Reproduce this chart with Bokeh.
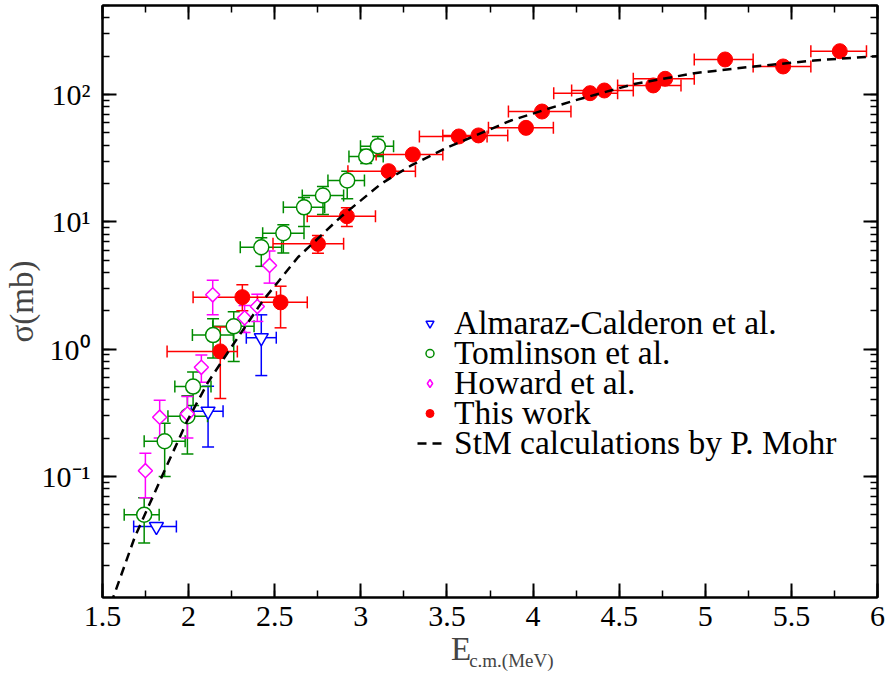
import numpy as np
from bokeh.plotting import figure
from bokeh.models import (ColumnDataSource, Whisker, TeeHead, Legend, LegendItem, LinearAxis, LogAxis,
                          SingleIntervalTicker, LogTicker, CustomJSTickFormatter, Range1d)
from bokeh.embed import file_html
from bokeh.resources import INLINE

# ---------------- data ----------------
# This work (red filled circles)
tw_x  = [2.184, 2.312, 2.534, 2.751, 2.919, 3.161, 3.302, 3.569, 3.683, 3.959, 4.052, 4.331, 4.414, 4.698, 4.767, 5.115, 5.452, 5.781]
tw_y  = [0.96, 2.56, 2.33, 6.71, 11.07, 25.0, 33.8, 46.8, 47.7, 54.7, 73.5, 102.4, 107.5, 117.8, 132.8, 188.4, 166.0, 218.8]
tw_xl = [1.875, 2.026, 2.400, 2.490, 2.689, 2.925, 3.089, 3.340, 3.476, 3.741, 3.857, 4.120, 4.224, 4.491, 4.582, 4.936, 5.278, 5.613]
tw_xu = [2.283, 2.510, 2.689, 2.900, 3.085, 3.317, 3.476, 3.733, 3.853, 4.118, 4.220, 4.491, 4.582, 4.859, 4.936, 5.278, 5.613, 5.936]
tw_yl = [0.41, 2.00, 1.47, 5.66, 9.18, 23.5, 31.5, 44.0, 45.0, 52.0, 70.0, 97.0, 102.0, 112.0, 126.0, 179.0, 158.0, 208.0]
tw_yu = [1.49, 3.21, 3.12, 7.80, 12.9, 26.5, 36.0, 49.5, 50.0, 57.5, 77.0, 108.0, 113.0, 124.0, 140.0, 198.0, 174.0, 230.0]

# Tomlinson et al. (green open circles)
to_x  = [1.742, 1.861, 1.993, 2.026, 2.142, 2.262, 2.422, 2.550, 2.670, 2.780, 2.921, 3.031, 3.099]
to_y  = [0.050, 0.189, 0.297, 0.508, 1.29, 1.51, 6.31, 8.13, 13.0, 16.1, 21.1, 32.6, 39.3]
to_xl = [1.626, 1.742, 1.880, 1.920, 2.022, 2.140, 2.300, 2.430, 2.550, 2.660, 2.809, 2.931, 2.998]
to_xu = [1.829, 1.980, 2.110, 2.130, 2.260, 2.380, 2.540, 2.670, 2.790, 2.900, 3.021, 3.130, 3.190]
to_yl = [0.030, 0.100, 0.150, 0.360, 0.85, 0.80, 4.47, 5.7, 9.2, 11.4, 15.2, 28.7, 33.0]
to_yu = [0.068, 0.262, 0.430, 0.660, 1.73, 1.97, 7.5, 9.5, 15.5, 18.9, 25.0, 37.0, 46.8]

# Howard et al. (magenta open diamonds)
ho_x  = [1.749, 1.832, 1.993, 2.074, 2.140, 2.325, 2.399, 2.470]
ho_y  = [0.111, 0.292, 0.310, 0.72, 2.67, 1.76, 2.16, 4.54]
ho_yl = [0.068, 0.200, 0.200, 0.55, 1.86, 1.35, 1.65, 3.30]
ho_yu = [0.152, 0.397, 0.425, 0.90, 3.47, 2.20, 2.70, 5.90]

# Almaraz-Calderon et al. (blue open down-triangles)
al_x  = [1.813, 2.113, 2.422]
al_y  = [0.0404, 0.325, 1.23]
al_xl = [1.681, 2.016, 2.335]
al_xu = [1.929, 2.200, 2.509]
al_yl = [0.0404, 0.17, 0.62]
al_yu = [0.0404, 0.51, 1.86]

# StM calculations by P. Mohr (dashed)
stm_x = [1.550, 1.562, 1.687, 1.852, 1.993, 2.113, 2.248, 2.432, 2.635, 2.886, 3.118, 3.292, 3.505, 3.872, 4.240, 4.588, 4.936, 5.284, 5.632, 6.0]
stm_y = [0.0100, 0.0112, 0.0333, 0.105, 0.275, 0.55, 1.035, 2.41, 5.27, 11.0, 19.9, 27.7, 38.5, 62.5, 89.7, 121.0, 147.0, 166.0, 185.0, 200.0]

x_tick_vals = [1.5, 2, 2.5, 3, 3.5, 4, 4.5, 5, 5.5, 6]
x_tick_labels = ["1.5", "2", "2.5", "3", "3.5", "4", "4.5", "5", "5.5", "6"]
y_tick_vals = [0.1, 1, 10, 100]
y_tick_labels = ["10\u207b\u00b9", "10\u2070", "10\u00b9", "10\u00b2"]

labels = ["Almaraz-Calderon et al.", "Tomlinson et al.", "Howard et al.", "This work", "StM calculations by P. Mohr"]
x_title_main, x_title_sub = "E", "c.m.(MeV)"
y_title = "\u03c3(mb)"

FONT = "Liberation Serif"
RED, GREEN, MAG, BLUE = "#ff0000", "#008b00", "#ff00ff", "#0000ff"
NB = "\u00a0"

p = figure(width=888, height=676, y_axis_type="log",
           x_range=Range1d(1.5, 6.0), y_range=Range1d(0.0112, 500),
           output_backend="svg", toolbar_location=None,
           min_border_left=101, min_border_right=11, min_border_top=5, min_border_bottom=79)
p.xgrid.visible = False
p.ygrid.visible = False
p.outline_line_color = "black"
p.outline_line_width = 2
p.background_fill_color = "white"
p.border_fill_color = "white"

xax = p.below[0]
yax = p.left[0]

xticker = SingleIntervalTicker(interval=0.5, num_minor_ticks=2)
yticker = LogTicker(num_minor_ticks=10)
xax.ticker = xticker
yax.ticker = yticker
xax.major_label_overrides = {v: s for v, s in zip(x_tick_vals, x_tick_labels)}
yax.major_label_overrides = {v: s for v, s in zip(y_tick_vals, y_tick_labels)}

empty = CustomJSTickFormatter(code="return ''")
top_ax = LinearAxis(ticker=xticker, formatter=empty)
right_ax = LogAxis(ticker=yticker, formatter=empty)
sub_ax = LinearAxis(ticker=xticker, formatter=empty)
p.add_layout(top_ax, "above")
p.add_layout(right_ax, "right")
p.add_layout(sub_ax, "below")

for ax in [xax, yax, top_ax, right_ax]:
    ax.axis_line_color = "black"
    ax.axis_line_width = 2
    ax.major_tick_line_color = "black"
    ax.major_tick_line_width = 2
    ax.minor_tick_line_color = "black"
    ax.minor_tick_line_width = 1.5
    ax.major_tick_in = 14
    ax.major_tick_out = 0
    ax.minor_tick_in = 7
    ax.minor_tick_out = 0
    ax.major_label_text_font = FONT
    ax.major_label_text_color = "black"
xax.major_label_text_font_size = "30px"
xax.major_label_standoff = 9
yax.major_label_text_font_size = "30px"
yax.major_label_standoff = 12
for ax in [top_ax, right_ax, sub_ax]:
    ax.major_label_text_font_size = "1px"
    ax.major_label_standoff = 0

sub_ax.axis_line_color = None
sub_ax.major_tick_line_color = None
sub_ax.minor_tick_line_color = None
sub_ax.major_tick_in = 0
sub_ax.major_tick_out = 0
sub_ax.minor_tick_in = 0
sub_ax.minor_tick_out = 0

# axis titles: "E" with subscript "c.m.(MeV)", offset by non-breaking spaces
xax.axis_label = x_title_main + NB * 7
xax.axis_label_text_font = FONT
xax.axis_label_text_font_size = "33px"
xax.axis_label_text_font_style = "normal"
xax.axis_label_standoff = 2
sub_ax.axis_label = NB * 9 + x_title_sub
sub_ax.axis_label_text_font = FONT
sub_ax.axis_label_text_font_size = "19px"
sub_ax.axis_label_text_font_style = "normal"
sub_ax.axis_label_standoff = -20

yax.axis_label = y_title
yax.axis_label_text_font = FONT
yax.axis_label_text_font_size = "33px"
yax.axis_label_text_font_style = "normal"
yax.axis_label_standoff = -1


def add_errors(xs, ys, xl, xu, yl, yu, color):
    if xl is not None:
        sx = ColumnDataSource(dict(y=ys, lo=xl, hi=xu))
        p.add_layout(Whisker(source=sx, base="y", lower="lo", upper="hi", dimension="width",
                             line_color=color, line_width=1.5,
                             lower_head=TeeHead(size=12, line_color=color, line_width=1.5),
                             upper_head=TeeHead(size=12, line_color=color, line_width=1.5)))
    keep = [i for i in range(len(xs)) if yu[i] > yl[i]]
    sy = ColumnDataSource(dict(x=[xs[i] for i in keep], lo=[yl[i] for i in keep], hi=[yu[i] for i in keep]))
    p.add_layout(Whisker(source=sy, base="x", lower="lo", upper="hi", dimension="height",
                         line_color=color, line_width=1.5,
                         lower_head=TeeHead(size=12, line_color=color, line_width=1.5),
                         upper_head=TeeHead(size=12, line_color=color, line_width=1.5)))


add_errors(al_x, al_y, al_xl, al_xu, al_yl, al_yu, BLUE)
add_errors(to_x, to_y, to_xl, to_xu, to_yl, to_yu, GREEN)
add_errors(ho_x, ho_y, None, None, ho_yl, ho_yu, MAG)
add_errors(tw_x, tw_y, tw_xl, tw_xu, tw_yl, tw_yu, RED)

r_al = p.scatter(al_x, al_y, marker="inverted_triangle", size=14, line_color=BLUE, fill_color="white", line_width=1.5)
r_to = p.scatter(to_x, to_y, marker="circle", size=15, line_color=GREEN, fill_color="white", line_width=1.5)
r_ho = p.scatter(ho_x, ho_y, marker="square", angle=np.pi / 4, size=10, line_color=MAG, fill_color="white", line_width=1.5)
r_tw = p.scatter(tw_x, tw_y, marker="circle", size=15, line_color=RED, fill_color=RED)
r_stm = p.line(stm_x, stm_y, line_color="black", line_width=2.5, line_dash="9 6")
# legend-only symbol for the diamond (the legend ignores marker angle); NaN point is never drawn
r_ho_leg = p.scatter([np.nan], [np.nan], marker="diamond", size=17, line_color=MAG, fill_color="white", line_width=1.5)

leg_renderers = [r_al, r_to, r_ho_leg, r_tw, r_stm]
leg_bottoms = [255, 225, 195, 165, 135]
for lab, rend, yb in zip(labels, leg_renderers, leg_bottoms):
    lg = Legend(items=[LegendItem(label=lab, renderers=[rend])],
                location=(315, yb), orientation="vertical",
                border_line_color=None, background_fill_alpha=0,
                label_text_font=FONT, label_text_font_size="33.5px", label_text_color="black",
                glyph_width=25, glyph_height=20, label_height=20, label_standoff=12,
                spacing=0, padding=0, margin=0)
    p.add_layout(lg)

open("out.html", "w").write(file_html(p, INLINE))
